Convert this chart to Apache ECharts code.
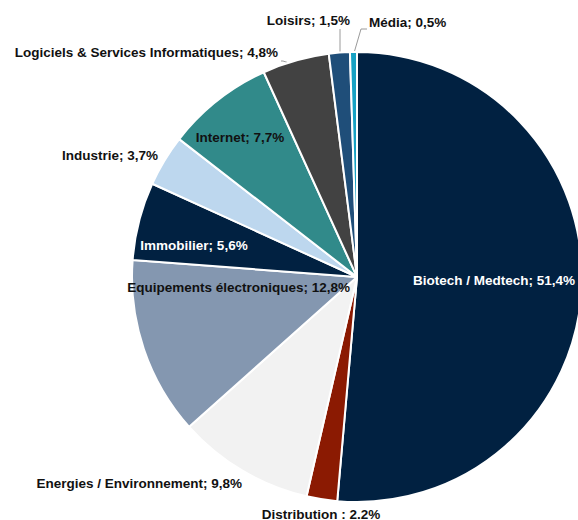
<!DOCTYPE html>
<html>
<head>
<meta charset="utf-8">
<script src="https://cdn.jsdelivr.net/npm/echarts@6/dist/echarts.min.js"></script>
<style>
html,body{margin:0;padding:0;background:#fff;}
#c{width:578px;height:520px;}
</style>
</head>
<body>
<div id="c"></div>
<script>
const categories = ['Biotech / Medtech','Distribution','Energies / Environnement','Equipements électroniques','Immobilier','Industrie','Internet','Logiciels & Services Informatiques','Loisirs','Média'];
const values = [51.4, 2.2, 9.8, 12.8, 5.6, 3.7, 7.7, 4.8, 1.5, 0.5];
const labelTexts = ['Biotech / Medtech; 51,4%','Distribution : 2.2%','Energies / Environnement; 9,8%','Equipements électroniques; 12,8%','Immobilier; 5,6%','Industrie; 3,7%','Internet; 7,7%','Logiciels & Services Informatiques; 4,8%','Loisirs; 1,5%','Média; 0,5%'];

const colors = ['#012141','#8b1a02','#f2f2f2','#8497b0','#012141','#bdd7ee','#318a8a','#424242','#1f4e79','#17a2c4'];
const textColors = ['#ffffff','#111','#111','#111','#ffffff','#111','#111','#111','#111','#111'];
// label layout: [x, y, align, linePoints or null]
const labelPos = [
  [575, 280, 'right', null],
  [321, 514, 'center', null],
  [242, 483, 'right', null],
  [350, 287, 'right', null],
  [194, 245, 'center', null],
  [158, 155, 'right', null],
  [240, 137, 'center', null],
  [278, 52, 'right', [[298,66],[283,61],[281,61]]],
  [350, 20, 'right', [[340,53],[340,29],[340,29]]],
  [369, 22, 'left', [[354,53],[361,29],[367,29]]]
];

const chart = echarts.init(document.getElementById('c'), null, {renderer:'svg'});
chart.setOption({
  backgroundColor:'#fff',
  animation:false,
  series:[{
    type:'pie',
    center:[357,277],
    radius:[0,225],
    startAngle:90,
    clockwise:true,
    avoidLabelOverlap:false,
    itemStyle:{borderColor:'#fff',borderWidth:2},
    label:{
      show:true,
      position:'outside',
      fontFamily:'"Liberation Sans", Arial, sans-serif',
      fontWeight:'bold',
      fontSize:13.5,
      formatter:(p)=>labelTexts[p.dataIndex]
    },
    labelLine:{show:true,lineStyle:{color:'#9a9a9a',width:1}},
    labelLayout:function(params){
      const lp = labelPos[params.dataIndex];
      const o = {x:lp[0], y:lp[1], align:lp[2], verticalAlign:'middle'};
      if (lp[3]) o.labelLinePoints = lp[3];
      return o;
    },
    data:categories.map((n,i)=>({
      name:n,
      value:values[i],
      itemStyle:{color:colors[i]},
      label:{color:textColors[i]},
      labelLine:{show: !!labelPos[i][3]}
    }))
  }]
});
</script>
</body>
</html>
